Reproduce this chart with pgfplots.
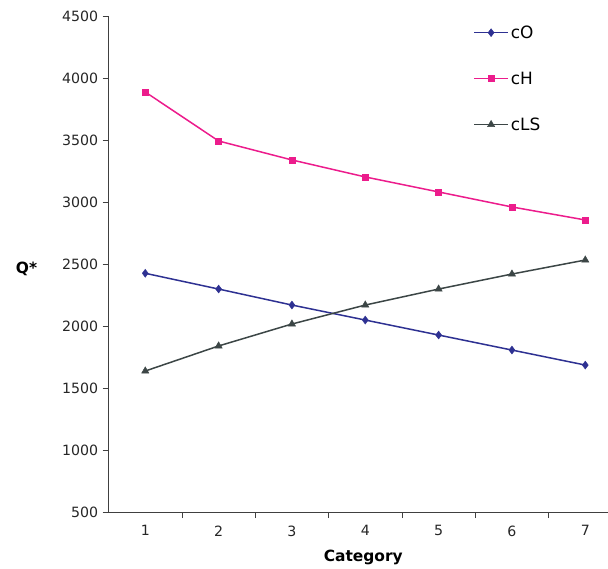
\documentclass[border=0pt]{standalone}
\usepackage{fontspec}
\setmainfont{DejaVu Sans}
\usepackage{pgfplots}
\pgfplotsset{compat=1.18}

\definecolor{cOcol}{HTML}{2E3192}
\definecolor{cHcol}{HTML}{EC1C8C}
\definecolor{cLScol}{HTML}{3C4646}

\begin{document}
\begin{tikzpicture}[x=1bp,y=1bp]
\begin{axis}[
  scale only axis,
  width=499.4bp, height=496bp,
  axis lines=left,
  axis line style={-, black!75, line width=0.8bp},
  xmin=0.5, xmax=7.31,
  ymin=500, ymax=4500,
  xtick={1,...,7},
  major x tick style={draw=none},
  minor xtick={1.5,2.5,...,6.5},
  minor x tick style={black!75, line width=0.8bp},
  minor tick length=6bp,
  ytick={500,1000,...,4500},
  major tick length=6bp,
  y tick style={black!75, line width=0.8bp},
  tick align=outside,
  /pgf/number format/assume math mode=true,
  /pgf/number format/1000 sep={},
  tick label style={font=\fontsize{14.2}{16}\selectfont, text=black!85},
  xticklabel style={yshift=-4bp},
  yticklabel style={xshift=-1bp},
  xlabel={\textbf{Category}},
  ylabel={\textbf{Q*}},
  xlabel style={font=\fontsize{15.5}{18}\selectfont, at={(rel axis cs:0.51,0)}, anchor=base, yshift=-49bp},
  ylabel style={font=\fontsize{15.5}{18}\selectfont, rotate=-90, at={(rel axis cs:0,0.49)}, anchor=center, xshift=-82bp},
  legend style={draw=none, fill=none, at={(rel axis cs:0.73,0.985)}, anchor=north west,
    font=\fontsize{17}{20}\selectfont, row sep=28bp, inner sep=0pt,
    /tikz/every even column/.append style={column sep=3bp}},
  legend cell align=left,
  legend image code/.code={%
    \draw[mark repeat=2,mark phase=2] plot coordinates {(0bp,0bp) (17bp,0bp) (34bp,0bp)};},
  every axis plot/.append style={line width=1.5bp},
  clip=false,
]
\addplot[cOcol, mark=diamond*, mark size=4bp, mark options={fill=cOcol, line width=0.4bp}]
  coordinates {(1,2425) (2,2298) (3,2169) (4,2048) (5,1927) (6,1806) (7,1685)};
\addlegendentry{cO}
\addplot[cHcol, mark=square*, mark size=3bp, mark options={fill=cHcol, line width=0.4bp}]
  coordinates {(1,3887) (2,3492) (3,3339) (4,3202) (5,3081) (6,2960) (7,2855)};
\addlegendentry{cH}
\addplot[cLScol, mark=triangle*, mark size=4.2bp, mark options={fill=cLScol, line width=0.4bp}]
  coordinates {(1,1637) (2,1839) (3,2016) (4,2169) (5,2298) (6,2419) (7,2532)};
\addlegendentry{cLS}
\coordinate (O) at (rel axis cs:0,0);
\end{axis}
\pgfresetboundingbox
\path (O) ++(-108.6bp,-57bp) rectangle ++(608bp,569bp);
\end{tikzpicture}
\end{document}
